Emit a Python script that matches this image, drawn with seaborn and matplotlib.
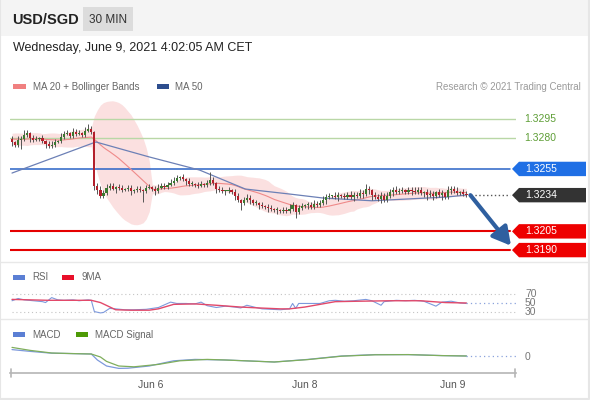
import numpy as np
import pandas as pd
import matplotlib
matplotlib.use("Agg")
import matplotlib.pyplot as plt
from matplotlib.patches import Rectangle, Polygon
import seaborn as sns

sns.set_theme(style="white")
plt.rcParams['font.family'] = ['Liberation Sans', 'DejaVu Sans']

# ---- price data (30 min bars) ----
warmup_closes = [1.32790, 1.32770, 1.32806, 1.32830, 1.32798, 1.32750, 1.32766, 1.32790, 1.32814, 1.32830,
                 1.32798, 1.32774, 1.32758, 1.32782, 1.32806, 1.32822, 1.32798, 1.32774, 1.32790]
closes = [1.32766, 1.32742, 1.32782, 1.32790, 1.32822, 1.32838, 1.32798, 1.32782, 1.32790, 1.32798,
          1.32774, 1.32750, 1.32734, 1.32742, 1.32766, 1.32774, 1.32806, 1.32830, 1.32838, 1.32814,
          1.32846, 1.32830, 1.32838, 1.32822, 1.32854, 1.32870, 1.32846, 1.32414, 1.32382, 1.32334,
          1.32358, 1.32398, 1.32414, 1.32390, 1.32406, 1.32398, 1.32382, 1.32390, 1.32398, 1.32374,
          1.32382, 1.32390, 1.32382, 1.32374, 1.32398, 1.32406, 1.32390, 1.32374, 1.32398, 1.32414,
          1.32406, 1.32422, 1.32438, 1.32454, 1.32478, 1.32486, 1.32470, 1.32454, 1.32430, 1.32430,
          1.32422, 1.32414, 1.32430, 1.32422, 1.32438, 1.32462, 1.32438, 1.32390, 1.32382, 1.32374,
          1.32374, 1.32382, 1.32366, 1.32334, 1.32302, 1.32278, 1.32302, 1.32318, 1.32302, 1.32278,
          1.32278, 1.32262, 1.32254, 1.32246, 1.32238, 1.32230, 1.32222, 1.32222, 1.32214, 1.32222,
          1.32214, 1.32230, 1.32262, 1.32206, 1.32238, 1.32254, 1.32262, 1.32262, 1.32246, 1.32270,
          1.32262, 1.32278, 1.32302, 1.32326, 1.32334, 1.32334, 1.32326, 1.32342, 1.32334, 1.32326,
          1.32342, 1.32326, 1.32342, 1.32334, 1.32358, 1.32350, 1.32390, 1.32382, 1.32342, 1.32326,
          1.32310, 1.32334, 1.32302, 1.32334, 1.32366, 1.32382, 1.32366, 1.32374, 1.32382, 1.32366,
          1.32382, 1.32374, 1.32366, 1.32382, 1.32358, 1.32366, 1.32342, 1.32350, 1.32334, 1.32366,
          1.32342, 1.32358, 1.32326, 1.32382, 1.32390, 1.32374, 1.32358, 1.32366, 1.32350, 1.32342]
# wick extensions beyond the body, in pips
wick_up = [2,1,3,2,4,2,1,2,2,1, 2,1,2,3,2,1,3,2,2,1, 3,2,2,1,3,4,2,1,2,3,
           2,3,2,2,1,2,2,1,2,2, 1,2,2,1,2,2,1,2,3,2, 2,2,3,3,2,1,2,1,2,2,
           1,2,2,1,2,6,2,1,2,2, 1,2,1,2,2,1,2,3,2,1, 2,1,2,1,2,2,1,2,1,2,
           2,4,2,1,2,2,1,2,2,3, 2,2,3,2,2,1,3,2,1,2, 2,3,2,2,3,2,4,2,1,2,
           2,3,2,3,2,2,3,2,2,1, 2,2,3,2,2,1,2,3,2,1, 2,2,1,3,2,2,3,1,2,2]
wick_dn = [3,2,2,7,2,2,3,2,1,2, 2,3,2,2,2,1,2,2,1,2, 2,2,1,2,2,1,2,3,3,2,
           2,2,2,1,3,2,2,1,2,3, 2,2,2,9,2,1,2,3,2,1, 2,2,1,2,1,2,2,3,2,2,
           2,2,1,2,2,2,2,3,2,2, 3,2,2,3,2,6,2,2,3,2, 2,3,2,2,3,2,2,3,2,2,
           2,2,2,5,2,2,2,3,2,2, 2,2,2,3,2,2,2,3,2,2, 2,2,3,2,2,3,2,3,4,2,
           2,3,2,2,2,3,2,2,2,2, 2,3,2,2,2,3,4,2,3,2, 2,4,2,2,3,2,2,2,2,2]

ma50_bars = [0, 27.5, 45, 61.5, 76.5, 91, 102, 118, 142.5, 149]
ma50_vals = [1.32517, 1.32766, 1.32646, 1.32541, 1.32389, 1.32349, 1.32317, 1.32295, 1.32325, 1.32341]

resistances = [1.3295, 1.3280]
pivot = 1.3255
supports = [1.3205, 1.3190]
last_price = 1.3234

# ---- RSI / MACD ----
rsi_bars = [0, 2, 4, 7, 10, 11, 13, 15, 17, 20, 22, 25, 26, 27, 29, 30, 32, 34, 37, 40, 44, 46, 48, 50,
            52, 54, 57, 60, 62, 64, 67, 70, 73, 75, 77, 80, 82, 85, 88, 91, 92, 93, 94, 98, 101, 104,
            106, 109, 112, 116, 118, 121, 122, 126, 129, 132, 135, 139, 141, 144, 147, 149]
rsi_vals = [55, 60, 57, 55, 53, 51, 62, 57, 56, 57, 55, 57, 56, 31, 28, 29, 38, 37, 35, 35, 36, 38, 40, 46,
            52, 49, 49, 48, 52, 44, 40, 43, 41, 39, 45, 40, 37, 36, 35, 37, 49, 38, 49, 49, 49, 55,
            56, 54, 55, 58, 55, 45, 53, 56, 55, 56, 54, 43, 52, 54, 50, 49]
rsi_ma_bars = [0, 6, 12, 19, 26, 29, 34, 39, 45, 48, 53, 60, 67, 75, 81, 88, 91, 96, 101, 106, 114, 124, 134, 142, 149]
rsi_ma_vals = [58, 57, 56, 56, 56, 51, 35, 34, 34, 37, 47, 48, 45, 41, 39, 37, 37, 41, 47, 53, 54, 55, 55, 51, 50]

macd_bars = [0, 6, 13, 20, 26, 28, 31, 35, 38, 45, 53, 60, 70, 86, 97, 108, 119, 130, 141, 149]
macd_vals = [0.00037, 0.00028, 0.00019, 0.00017, 0.00015, -0.00015, -0.00045, -0.00057, -0.00056, -0.00045,
             -0.00019, -0.00012, -0.00015, -0.00025, -0.00012, 0.00005, 0.00012, 0.00012, 0.00007, 0.00005]
signal_bars = [0, 6, 13, 20, 26, 29, 31, 35, 40, 48, 55, 64, 70, 86, 97, 108, 119, 130, 141, 149]
signal_vals = [0.00048, 0.00033, 0.00020, 0.00017, 0.00015, 0.0, -0.00022, -0.00045, -0.00049, -0.00037,
               -0.00019, -0.00012, -0.00015, -0.00025, -0.00013, 0.00004, 0.00011, 0.00012, 0.00007, 0.00005]

tick_bars = [45.5, 96, 144.5]
tick_labels = ['Jun 6', 'Jun 8', 'Jun 9']

# ---- derived series ----
pip = 0.0001
c = np.array(closes)
o = np.array([warmup_closes[-1]] + closes[:-1])
hi = np.maximum(o, c) + np.array(wick_up) * pip
lo = np.minimum(o, c) - np.array(wick_dn) * pip
bars = np.arange(len(c))

full = pd.Series(warmup_closes + closes)
n0 = len(warmup_closes)
ma20 = full.rolling(20).mean().to_numpy()[n0:]
sd20 = full.rolling(20).std(ddof=0).to_numpy()[n0:]
upper = ma20 + 2 * sd20
lower = ma20 - 2 * sd20

W, H = 590, 400
fig = plt.figure(figsize=(W / 100, H / 100), dpi=100)
fig.patch.set_facecolor('white')


def px_axes(x0, y0, x1, y1, **kw):
    return fig.add_axes([x0 / W, 1 - y1 / H, (x1 - x0) / W, (y1 - y0) / H], **kw)


XL = (-0.656, 165.25)

# price panel
ax = px_axes(10, 95, 516, 258)
ax.set_facecolor('none')
ax.set_xlim(*XL)
ax.set_ylim(1.318366, 1.331422)
ax.axis('off')

ax.fill_between(bars, lower, upper, color='#fad9d9', alpha=0.8, lw=0, zorder=1)
sns.lineplot(x=bars, y=ma20, ax=ax, color='#ef8a8a', lw=0.8, legend=False, zorder=2)
sns.lineplot(x=ma50_bars, y=ma50_vals, ax=ax, color='#6c80b6', lw=0.9, legend=False, zorder=2)

for r in resistances:
    ax.axhline(r, xmin=0, xmax=1, color='#b9d7a6', lw=1.0, zorder=1)
ax.plot([XL[0], 163.3], [pivot, pivot], color='#2a63c6', lw=1.1, zorder=1)
for s in supports:
    ax.plot([XL[0], 163.3], [s, s], color='#e50000', lw=1.5, zorder=1)

up = c >= o
ax.vlines(bars, lo, hi, color='#555555', lw=0.7, zorder=3)
body_h = np.maximum(np.abs(c - o), 0.00005)
ax.bar(bars, body_h, bottom=np.minimum(o, c), width=0.72,
       color=np.where(up, '#3a7a30', '#b3202c'), lw=0, zorder=4)

ax.plot([bars[-1] + 1.5, 163.3], [last_price, last_price], color='#555555', lw=1.0,
        ls=(0, (1, 1.8)), zorder=2, clip_on=False)
ax.annotate('', xy=(163.6, supports[1] + 0.00035), xytext=(bars[-1] + 1.3, last_price),
            arrowprops=dict(arrowstyle='-|>,head_length=0.9,head_width=0.5', lw=3,
                            color='#2f5f9f', shrinkA=0, shrinkB=0),
            annotation_clip=False, zorder=6)

# RSI panel: 70 at y=294, 30 at y=312
axr = px_axes(10, 285, 516, 318)
axr.set_facecolor('none')
axr.set_xlim(*XL)
axr.set_ylim(16.7, 90)
axr.axis('off')
for lvl in (70, 30):
    axr.plot([0, XL[1]], [lvl, lvl], color='#c4c4c4', lw=0.8, ls=(0, (1, 2.5)))
sns.lineplot(x=rsi_bars, y=rsi_vals, ax=axr, color='#7d99dc', lw=0.8, legend=False)
sns.lineplot(x=rsi_ma_bars, y=rsi_ma_vals, ax=axr, color='#e2496a', lw=1.0, legend=False)
axr.plot([rsi_bars[-1], XL[1]], [rsi_vals[-1], rsi_vals[-1]], color='#8aa2dc', lw=0.9, ls=(0, (1, 2.5)))

# MACD panel: 0 at y=357
axm = px_axes(10, 340, 516, 373)
axm.set_facecolor('none')
axm.set_xlim(*XL)
axm.set_ylim(-0.0008, 0.00085)
sns.lineplot(x=macd_bars, y=macd_vals, ax=axm, color='#7d99dc', lw=0.9, legend=False)
sns.lineplot(x=signal_bars, y=signal_vals, ax=axm, color='#7fae5c', lw=0.9, legend=False)
axm.plot([macd_bars[-1], XL[1]], [macd_vals[-1], macd_vals[-1]], color='#8aa2dc', lw=0.9, ls=(0, (1, 2.5)))
for side in ('top', 'left', 'right'):
    axm.spines[side].set_visible(False)
axm.spines['bottom'].set_color('#b5b5b5')
axm.spines['bottom'].set_linewidth(1.2)
axm.set_yticks([])
axm.set_xticks(tick_bars, tick_labels)
axm.tick_params(axis='x', length=0, pad=5, labelsize=7.5, labelcolor='#555555')
for a in (ax, axr, axm):
    a.set_xlabel('')
    a.set_ylabel('')

# overlay in pixel coordinates for header, legends and tags
ov = fig.add_axes([0, 0, 1, 1], zorder=10)
ov.set_xlim(0, W)
ov.set_ylim(H, 0)
ov.axis('off')
ov.patch.set_alpha(0)

ov.add_patch(Rectangle((0, 0), W, 36, color='#f4f4f4', lw=0))
ov.add_patch(Rectangle((83, 7), 50, 24, color='#dcdcdc', lw=0))
ov.text(12, 20, 'USD/SGD', fontsize=10.5, fontweight='bold', color='#222222', va='center')
ov.text(108, 20, '30 MIN', fontsize=8.5, color='#333333', va='center', ha='center')
ov.text(13, 48, 'Wednesday, June 9, 2021 4:02:05 AM CET', fontsize=9, color='#222222', va='center')
for yy in (262, 319):
    ov.plot([0, W], [yy, yy], color='#e8e8e8', lw=1)
ov.plot([0, 0, W - 1, W - 1], [0, H - 1, H - 1, 0], color='#e6e6e6', lw=1.5)

gray = '#666666'
ov.add_patch(Rectangle((13, 84), 13, 5, color='#f08080', lw=0))
ov.text(33, 86.5, 'MA 20 + Bollinger Bands', fontsize=7, color=gray, va='center')
ov.add_patch(Rectangle((157, 84), 12, 5, color='#2d4e8e', lw=0))
ov.text(175, 86.5, 'MA 50', fontsize=7, color=gray, va='center')
ov.text(581, 86.5, 'Research \u00a9 2021 Trading Central', fontsize=7, color='#9a9a9a', va='center', ha='right')

ov.add_patch(Rectangle((13, 275), 12, 5, color='#5b7fd4', lw=0))
ov.text(32, 277.5, 'RSI', fontsize=7, color=gray, va='center')
ov.add_patch(Rectangle((62, 275), 12, 5, color='#e8102a', lw=0))
ov.text(82, 277.5, '9MA', fontsize=7, color=gray, va='center')
ov.add_patch(Rectangle((13, 332), 12, 5, color='#5b7fd4', lw=0))
ov.text(32, 334.5, 'MACD', fontsize=7, color=gray, va='center')
ov.add_patch(Rectangle((76, 332), 12, 5, color='#4e9a06', lw=0))
ov.text(95, 334.5, 'MACD Signal', fontsize=7, color=gray, va='center')


def to_px(axis, yval):
    return H - axis.transData.transform((0, yval))[1]


for lvl in (70, 50, 30):
    ov.text(525, to_px(axr, lvl), str(lvl), fontsize=7.5, color='#777777', va='center')
ov.text(525, to_px(axm, 0), '0', fontsize=7.5, color='#777777', va='center')
for xx in (11, 515):
    ov.plot([xx, xx], [369, 377], color='#b5b5b5', lw=1.2)

for r in resistances:
    ov.text(524, to_px(ax, r), f'{r:.4f}', fontsize=7.5, color='#5e9e36', va='center')


def tag(price, color):
    yc = to_px(ax, price)
    ov.add_patch(Polygon([(512, yc), (519, yc - 7.2), (586, yc - 7.2), (586, yc + 7.2), (519, yc + 7.2)],
                         closed=True, color=color, lw=0))
    ov.text(525, yc, f'{price:.4f}', fontsize=7.5, color='white', va='center')


tag(pivot, '#1f6fe5')
tag(last_price, '#333333')
for s in supports:
    tag(s, '#ee0000')

fig.savefig('out.png', dpi=100)
